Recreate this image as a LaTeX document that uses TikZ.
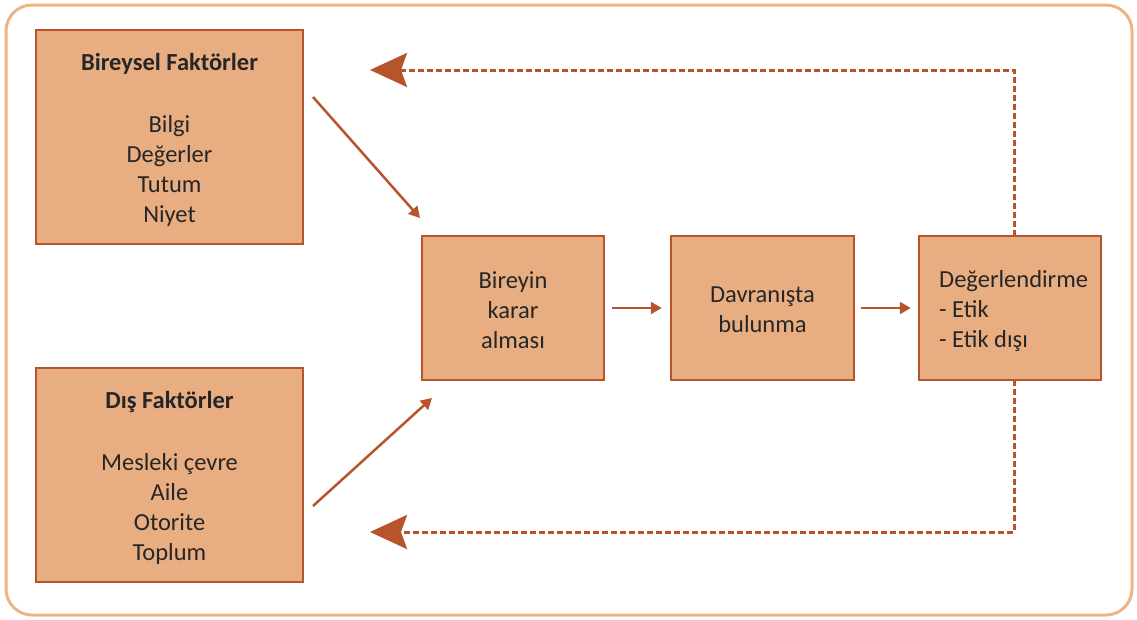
\documentclass[tikz,border=0pt]{standalone}
\usepackage{fontspec}
\setmainfont{Carlito}
\usetikzlibrary{arrows.meta}
\definecolor{boxfill}{RGB}{232,174,130}
\definecolor{boxline}{RGB}{184,84,44}
\definecolor{frame}{RGB}{237,180,133}
\definecolor{txt}{RGB}{38,38,38}
\tikzset{
  box/.style={draw=boxline, fill=boxfill, line width=2.5pt, inner sep=0pt},
  label/.style={text=txt, inner sep=0pt, font=\fontsize{24.5}{30}\selectfont},
  flow/.style={draw=boxline, line width=2.5pt, -{Triangle[length=11pt,width=12pt]}},
  back/.style={draw=boxline, line width=3pt, dash pattern=on 6pt off 3pt,
    -{Stealth[length=37pt,width=34pt,inset=6pt]}},
}
\begin{document}
\begin{tikzpicture}[x=1pt,y=-1pt]
\useasboundingbox (0,0) rectangle (1137,619);
\draw[frame, line width=3pt, rounded corners=26pt] (6,5) rectangle (1132,615);

\node[box, minimum width=267pt, minimum height=214pt] (ind) at (169.5,137) {};
\node[box, minimum width=267pt, minimum height=214pt] (ext) at (169.5,475) {};
\node[box, minimum width=182pt, minimum height=144pt] (dec) at (513,308) {};
\node[box, minimum width=183pt, minimum height=144pt] (beh) at (762.5,308) {};
\node[box, minimum width=182pt, minimum height=144pt] (eval) at (1010,308) {};

\node[label, align=center] (indtext) at (169.5,140)
  {\textbf{Bireysel Faktörler}\\[32pt]Bilgi\\Değerler\\Tutum\\Niyet};
\node[label, align=center] (exttext) at (169.5,478)
  {\textbf{Dış Faktörler}\\[32pt]Mesleki çevre\\Aile\\Otorite\\Toplum};
\node[label, align=center] (dectext) at (513,310) {Bireyin\\karar\\alması};
\node[label, align=center] (behtext) at (762.5,310) {Davranışta\\bulunma};
\node[label, align=left, anchor=west] (evaltext) at (939,311)
  {Değerlendirme\\- Etik\\- Etik dışı};

\coordinate (a1s) at (313,97);
\coordinate (a1e) at (420,218);
\coordinate (a2s) at (313,506);
\coordinate (a2e) at (432,398);
\coordinate (t1) at (1014,236);
\coordinate (c1) at (1014,70);
\coordinate (e1) at (370,70);
\coordinate (t2) at (1014,380);
\coordinate (c2) at (1014,532);
\coordinate (e2) at (370,532);

\draw[flow] (a1s) -- (a1e);
\draw[flow] (a2s) -- (a2e);
\draw[flow] ([xshift=7pt]dec.east) -- ([xshift=-8pt]beh.west);
\draw[flow] ([xshift=6pt]beh.east) -- ([xshift=-7pt]eval.west);
\draw[back] (t1) -- (c1) -- (e1);
\draw[back] (t2) -- (c2) -- (e2);
\end{tikzpicture}
\end{document}
